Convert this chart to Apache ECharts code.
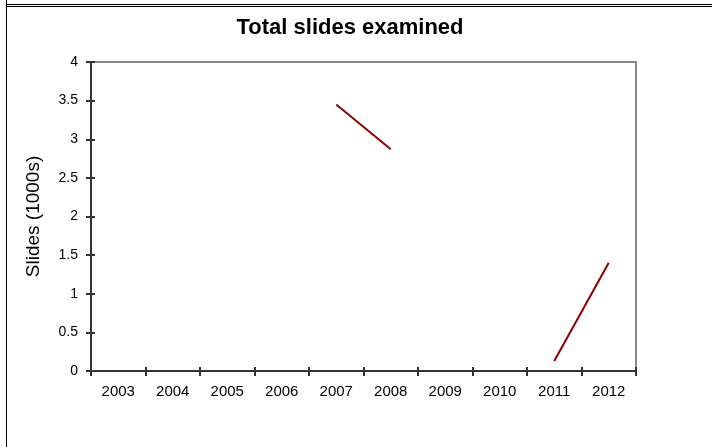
<!DOCTYPE html>
<html>
<head>
<meta charset="utf-8">
<script src="https://cdn.jsdelivr.net/npm/echarts@6/dist/echarts.min.js"></script>
<style>html,body{margin:0;padding:0;background:#fff;}#c{width:712px;height:447px;}</style>
</head>
<body>
<div id="c"></div>
<script>
const categories = ['2003','2004','2005','2006','2007','2008','2009','2010','2011','2012'];
const slides = [null, null, null, null, 3.45, 2.87, null, null, 0.13, 1.40];
const titleText = 'Total slides examined';
const yName = 'Slides (1000s)';

const chart = echarts.init(document.getElementById('c'));
const font = 'Liberation Sans, Arial, sans-serif';
chart.setOption({
  animation: false,
  backgroundColor: '#fff',
  title: {
    text: titleText, left: 345, top: 12, textAlign: 'center',
    textStyle: {fontFamily: font, fontSize: 22, fontWeight: 'bold', color: '#000'}
  },
  grid: {left: 91, right: 76, top: 62, bottom: 76, show: true, borderColor: '#888', borderWidth: 2, backgroundColor: '#fff'},
  xAxis: [{
    type: 'category', data: categories, boundaryGap: true, position: 'bottom',
    axisLine: {lineStyle: {color: '#333', width: 2}},
    axisTick: {show: true, length: 5, lineStyle: {color: '#333', width: 2}},
    axisLabel: {fontFamily: font, fontSize: 15, color: '#000', margin: 13}
  }, {
    type: 'category', data: categories, boundaryGap: true, position: 'bottom', offset: 0,
    axisLine: {show: true, lineStyle: {color: 'rgba(0,0,0,0)', width: 0}},
    axisTick: {show: true, inside: true, length: 4, lineStyle: {color: '#333', width: 2}},
    axisLabel: {show: false}
  }],
  yAxis: [{
    type: 'value', min: 0, max: 4, interval: 0.5, position: 'left',
    name: yName, nameLocation: 'middle', nameGap: 48,
    nameTextStyle: {fontFamily: font, fontSize: 19, color: '#000'},
    splitLine: {show: false},
    axisLine: {show: true, lineStyle: {color: '#333', width: 2}},
    axisTick: {show: true, length: 5, lineStyle: {color: '#333', width: 2}},
    axisLabel: {fontFamily: font, fontSize: 14, color: '#000', margin: 13}
  }, {
    type: 'value', min: 0, max: 4, interval: 0.5, position: 'left', offset: 0,
    splitLine: {show: false},
    axisLine: {show: true, lineStyle: {color: 'rgba(0,0,0,0)', width: 0}},
    axisTick: {show: true, inside: true, length: 4, lineStyle: {color: '#333', width: 2}},
    axisLabel: {show: false}
  }],
  series: [{
    type: 'line', data: slides, xAxisIndex: 0, yAxisIndex: 0,
    showSymbol: false, symbol: 'none', connectNulls: false,
    lineStyle: {color: '#8B0000', width: 2}
  }],
  graphic: [
    {type: 'line', silent: true, shape: {x1: 6, y1: 4.5, x2: 712, y2: 4.5}, style: {stroke: '#000', lineWidth: 1}},
    {type: 'line', silent: true, shape: {x1: 6, y1: 6.5, x2: 712, y2: 6.5}, style: {stroke: '#000', lineWidth: 1}},
    {type: 'line', silent: true, shape: {x1: 6.5, y1: 0, x2: 6.5, y2: 447}, style: {stroke: '#000', lineWidth: 1}}
  ]
});
</script>
</body>
</html>
